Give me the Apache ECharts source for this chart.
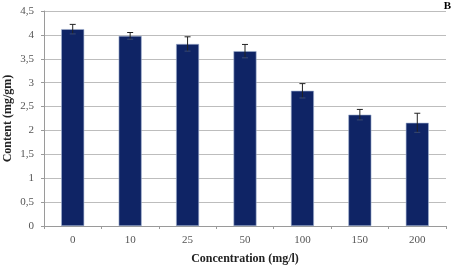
<!DOCTYPE html>
<html>
<head>
<meta charset="utf-8">
<script src="https://cdn.jsdelivr.net/npm/echarts@6/dist/echarts.min.js"></script>
<style>
  html, body { margin: 0; padding: 0; background: #fff; }
  #chart { width: 453px; height: 267px; }
</style>
</head>
<body>
<div id="chart"></div>
<script>
// 数据
const categories = ["0", "10", "25", "50", "100", "150", "200"];
const contentValues = [4.12, 3.98, 3.81, 3.66, 2.83, 2.33, 2.16];
const errorValues = [0.1, 0.07, 0.15, 0.14, 0.15, 0.11, 0.2];
const yTicks = ["0", "0,5", "1", "1,5", "2", "2,5", "3", "3,5", "4", "4,5"];

const serif = "'Liberation Serif', 'DejaVu Serif', serif";
const chart = echarts.init(document.getElementById("chart"));

let option = {
  animation: false,
  textStyle: { fontFamily: serif },
  grid: { left: 44, right: 7, top: 11, bottom: 41, outerBoundsMode: "none" },
  graphic: [
    {
      type: "text",
      right: 2,
      top: 1,
      style: { text: "B", font: "bold 11px " + serif, fill: "#000" },
    },
  ],
  xAxis: {
    type: "category",
    data: categories,
    name: "Concentration (mg/l)",
    nameLocation: "middle",
    nameGap: 27,
    nameMoveOverlap: false,
    nameTextStyle: { fontFamily: serif, fontWeight: "bold", fontSize: 12, color: "#222" },
    axisLine: { lineStyle: { color: "#9a9a9a" } },
    axisTick: { show: true, length: 3, lineStyle: { color: "#9a9a9a" } },
    axisLabel: { color: "#555", fontSize: 11, fontFamily: serif, margin: 9 },
  },
  yAxis: {
    type: "value",
    min: 0,
    max: 4.5,
    interval: 0.5,
    name: "Content (mg/gm)",
    nameLocation: "middle",
    nameGap: 30,
    nameMoveOverlap: false,
    nameTextStyle: { fontFamily: serif, fontWeight: "bold", fontSize: 12, color: "#222" },
    axisLine: { show: true, lineStyle: { color: "#9a9a9a" } },
    axisTick: { show: true, length: 3, lineStyle: { color: "#9a9a9a" } },
    axisLabel: {
      color: "#555",
      fontSize: 11,
      fontFamily: serif,
      margin: 10,
      formatter: (v) => yTicks[Math.round(v * 2)],
    },
    splitLine: { lineStyle: { color: "#bdbdbd" } },
  },
  series: [
    {
      type: "bar",
      data: contentValues,
      barWidth: "40%",
      itemStyle: {
        color: "#0f2465",
        borderColor: "#9fb0d0",
        borderWidth: 0.6,
      },
    },
    {
      // 误差线
      type: "custom",
      data: contentValues.map((v, i) => [i, v, errorValues[i]]),
      z: 5,
      renderItem: function (params, api) {
        const x = api.value(0);
        const hi = api.coord([x, api.value(1) + api.value(2)]);
        const lo = api.coord([x, api.value(1) - api.value(2)]);
        const cap = 3;
        const st = { stroke: "#222", lineWidth: 1 };
        return {
          type: "group",
          children: [
            { type: "line", shape: { x1: hi[0], y1: hi[1], x2: lo[0], y2: lo[1] }, style: st },
            { type: "line", shape: { x1: hi[0] - cap, y1: hi[1], x2: hi[0] + cap, y2: hi[1] }, style: st },
            { type: "line", shape: { x1: lo[0] - cap, y1: lo[1], x2: lo[0] + cap, y2: lo[1] }, style: { stroke: "#3a4a70", lineWidth: 1 } },
          ],
        };
      },
    },
  ],
};
chart.setOption(option);
</script>
</body>
</html>
